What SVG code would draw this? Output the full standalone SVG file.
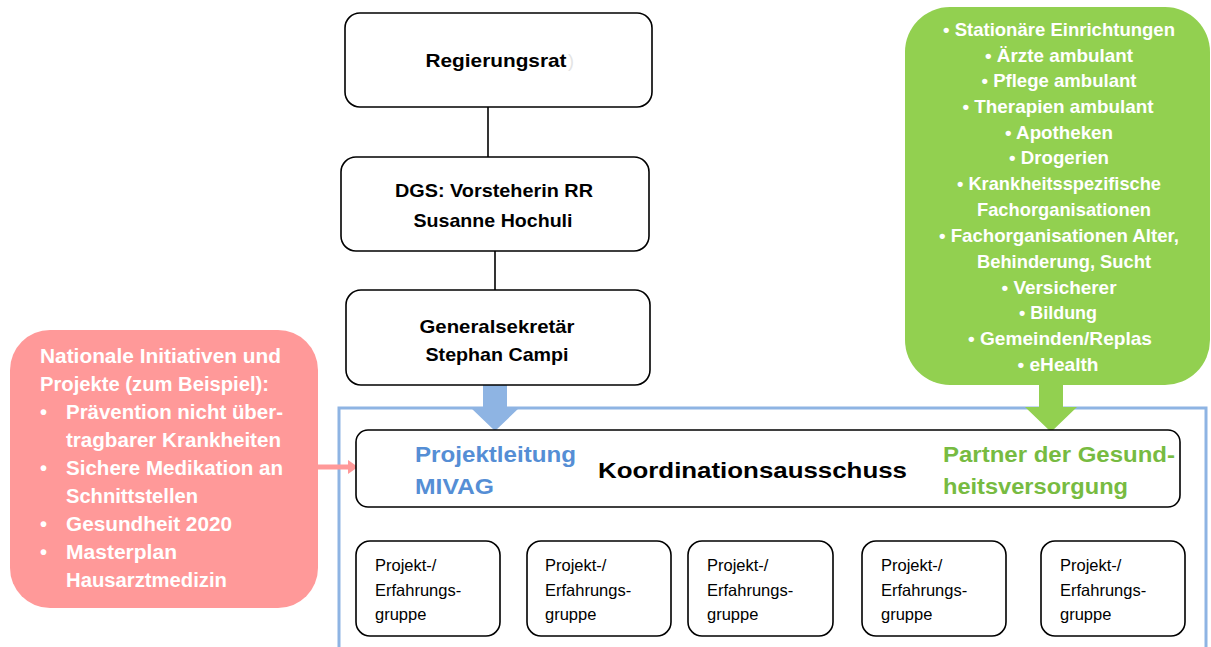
<svg xmlns="http://www.w3.org/2000/svg" width="1211" height="647" viewBox="0 0 1211 647">
<style>
.box{fill:#fff;stroke:#000;stroke-width:1.6}
.hd{font-family:"Liberation Sans",Arial,sans-serif;font-weight:bold;font-size:19px;fill:#000;text-anchor:middle}
.gt{font-family:"Liberation Sans",Arial,sans-serif;font-weight:bold;font-size:18.5px;fill:#fff;text-anchor:middle}
.rt{font-family:"Liberation Sans",Arial,sans-serif;font-weight:bold;font-size:20px;fill:#fff}
.sm{font-family:"Liberation Sans",Arial,sans-serif;font-size:16.5px;fill:#000}
.kt{font-family:"Liberation Sans",Arial,sans-serif;font-weight:bold;font-size:22px}
</style>
<rect width="1211" height="647" fill="#fff"/>
<g id="container">
<rect x="339" y="408" width="867" height="260" fill="none" stroke="#8eb4e3" stroke-width="3"/>
</g>
<g id="connectors">
<line x1="488" y1="107" x2="488" y2="157" stroke="#000" stroke-width="1.6"/>
<line x1="495" y1="251" x2="495" y2="290" stroke="#000" stroke-width="1.6"/>
<polygon points="483,385 507,385 507,408 519,408 495,431 471,408 483,408" fill="#8eb4e3"/>
<polygon points="1039,385 1063,385 1063,407 1077,407 1051,432 1025,407 1039,407" fill="#92d050"/>
<line x1="318" y1="467" x2="349" y2="467" stroke="#ff9999" stroke-width="5"/>
<polygon points="348,460 358,467 348,474" fill="#ff9999"/>
</g>
<g id="regierungsrat">
<rect class="box" x="345" y="13" width="307" height="94" rx="15"/>
<text class="hd" x="496" y="67" textLength="141" lengthAdjust="spacingAndGlyphs">Regierungsrat</text>
<text x="568" y="67" font-family="Liberation Sans,sans-serif" font-size="18" fill="#e4e4e4">)</text>
</g>
<g id="dgs">
<rect class="box" x="341" y="157" width="308" height="94" rx="15"/>
<text class="hd" x="494" y="197" textLength="198" lengthAdjust="spacingAndGlyphs">DGS: Vorsteherin RR</text>
<text class="hd" x="493" y="227" textLength="159" lengthAdjust="spacingAndGlyphs">Susanne Hochuli</text>
</g>
<g id="generalsekretaer">
<rect class="box" x="346" y="290" width="304" height="95" rx="15"/>
<text class="hd" x="497" y="333" textLength="155" lengthAdjust="spacingAndGlyphs">Generalsekretär</text>
<text class="hd" x="497" y="361" textLength="143" lengthAdjust="spacingAndGlyphs">Stephan Campi</text>
</g>
<g id="partner">
<rect x="905" y="7" width="305" height="378" rx="45" fill="#92d050"/>
<text class="gt" x="1059" y="36" textLength="232" lengthAdjust="spacingAndGlyphs">• Stationäre Einrichtungen</text>
<text class="gt" x="1059" y="62" textLength="148" lengthAdjust="spacingAndGlyphs">• Ärzte ambulant</text>
<text class="gt" x="1059" y="87" textLength="155" lengthAdjust="spacingAndGlyphs">• Pflege ambulant</text>
<text class="gt" x="1058" y="113" textLength="191" lengthAdjust="spacingAndGlyphs">• Therapien ambulant</text>
<text class="gt" x="1059" y="139" textLength="108" lengthAdjust="spacingAndGlyphs">• Apotheken</text>
<text class="gt" x="1059" y="164" textLength="100" lengthAdjust="spacingAndGlyphs">• Drogerien</text>
<text class="gt" x="1059" y="190" textLength="204" lengthAdjust="spacingAndGlyphs">• Krankheitsspezifische</text>
<text class="gt" x="1064" y="216" textLength="174" lengthAdjust="spacingAndGlyphs">Fachorganisationen</text>
<text class="gt" x="1059" y="242" textLength="240" lengthAdjust="spacingAndGlyphs">• Fachorganisationen Alter,</text>
<text class="gt" x="1064" y="268" textLength="174" lengthAdjust="spacingAndGlyphs">Behinderung, Sucht</text>
<text class="gt" x="1059" y="294" textLength="115" lengthAdjust="spacingAndGlyphs">• Versicherer</text>
<text class="gt" x="1058" y="319" textLength="78" lengthAdjust="spacingAndGlyphs">• Bildung</text>
<text class="gt" x="1060" y="345" textLength="184" lengthAdjust="spacingAndGlyphs">• Gemeinden/Replas</text>
<text class="gt" x="1058" y="371" textLength="81" lengthAdjust="spacingAndGlyphs">• eHealth</text>
</g>
<g id="national">
<rect x="10" y="330" width="308" height="278" rx="40" fill="#ff9999"/>
<text class="rt" x="40" y="363" textLength="241" lengthAdjust="spacingAndGlyphs">Nationale Initiativen und</text>
<text class="rt" x="40" y="391" textLength="229" lengthAdjust="spacingAndGlyphs">Projekte (zum Beispiel):</text>
<text class="rt" x="40" y="419">•</text><text class="rt" x="66" y="419" textLength="217" lengthAdjust="spacingAndGlyphs">Prävention nicht über-</text>
<text class="rt" x="66" y="447" textLength="215" lengthAdjust="spacingAndGlyphs">tragbarer Krankheiten</text>
<text class="rt" x="40" y="475">•</text><text class="rt" x="66" y="475" textLength="217" lengthAdjust="spacingAndGlyphs">Sichere Medikation an</text>
<text class="rt" x="66" y="503" textLength="132" lengthAdjust="spacingAndGlyphs">Schnittstellen</text>
<text class="rt" x="40" y="531">•</text><text class="rt" x="66" y="531" textLength="166" lengthAdjust="spacingAndGlyphs">Gesundheit 2020</text>
<text class="rt" x="40" y="559">•</text><text class="rt" x="66" y="559" textLength="111" lengthAdjust="spacingAndGlyphs">Masterplan</text>
<text class="rt" x="66" y="587" textLength="161" lengthAdjust="spacingAndGlyphs">Hausarztmedizin</text>
</g>
<g id="koordination">
<rect class="box" x="356" y="430" width="824" height="77" rx="12"/>
<text class="kt" x="415" y="462" fill="#558ed5" textLength="161" lengthAdjust="spacingAndGlyphs">Projektleitung</text>
<text class="kt" x="415" y="494" fill="#558ed5" textLength="79" lengthAdjust="spacingAndGlyphs">MIVAG</text>
<text class="kt" x="598" y="478" fill="#000" font-size="23" textLength="309" lengthAdjust="spacingAndGlyphs">Koordinationsausschuss</text>
<text class="kt" x="943" y="462" fill="#77bb41" textLength="232" lengthAdjust="spacingAndGlyphs">Partner der Gesund-</text>
<text class="kt" x="943" y="494" fill="#77bb41" textLength="185" lengthAdjust="spacingAndGlyphs">heitsversorgung</text>
</g>
<g id="gruppe1">
<rect class="box" x="356" y="541" width="144" height="95" rx="14"/>
<text class="sm" x="375" y="571">Projekt-/</text><text class="sm" x="375" y="596">Erfahrungs-</text><text class="sm" x="375" y="620">gruppe</text>
</g>
<g id="gruppe2">
<rect class="box" x="527" y="541" width="144" height="95" rx="14"/>
<text class="sm" x="545" y="571">Projekt-/</text><text class="sm" x="545" y="596">Erfahrungs-</text><text class="sm" x="545" y="620">gruppe</text>
</g>
<g id="gruppe3">
<rect class="box" x="688" y="541" width="145" height="95" rx="14"/>
<text class="sm" x="707" y="571">Projekt-/</text><text class="sm" x="707" y="596">Erfahrungs-</text><text class="sm" x="707" y="620">gruppe</text>
</g>
<g id="gruppe4">
<rect class="box" x="862" y="541" width="144" height="95" rx="14"/>
<text class="sm" x="881" y="571">Projekt-/</text><text class="sm" x="881" y="596">Erfahrungs-</text><text class="sm" x="881" y="620">gruppe</text>
</g>
<g id="gruppe5">
<rect class="box" x="1041" y="541" width="144" height="95" rx="14"/>
<text class="sm" x="1060" y="571">Projekt-/</text><text class="sm" x="1060" y="596">Erfahrungs-</text><text class="sm" x="1060" y="620">gruppe</text>
</g>
</svg>
